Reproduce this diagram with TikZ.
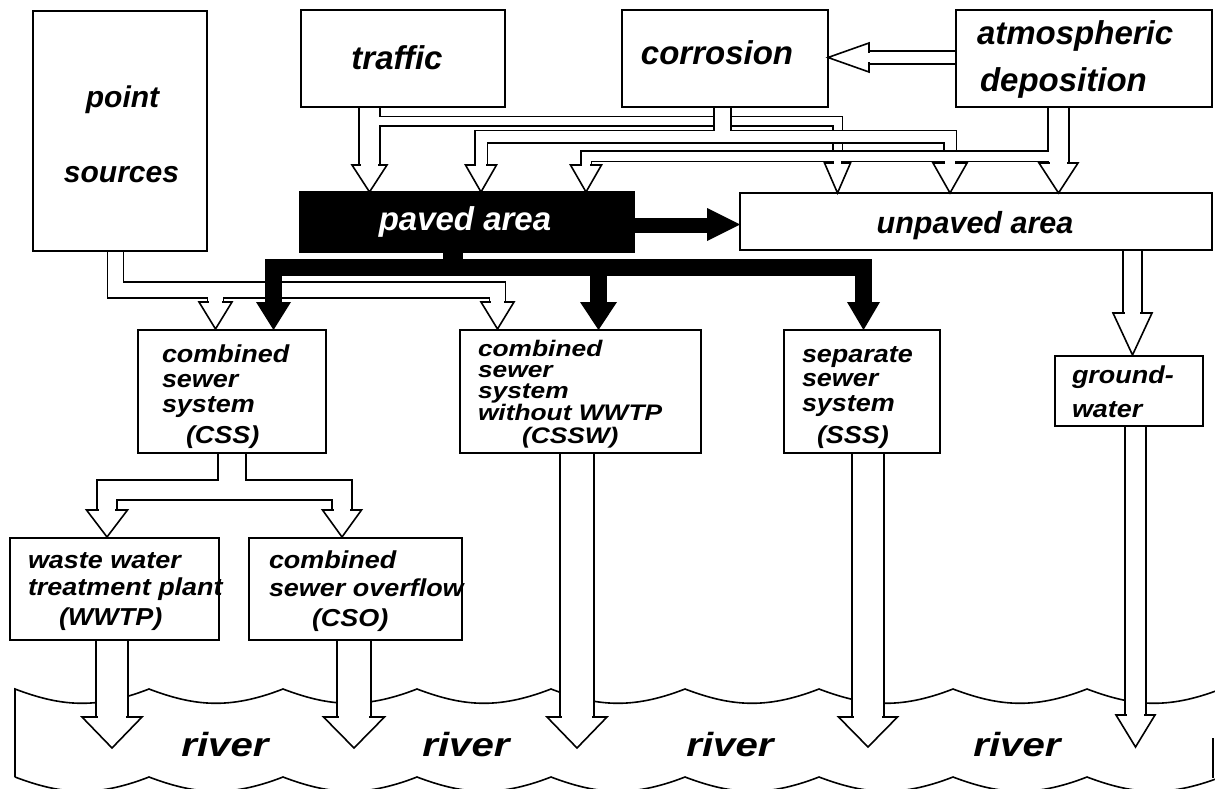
\documentclass[tikz,border=0pt]{standalone}
\usepackage{fontspec}
\setmainfont{Liberation Sans}
\newfontfamily\SewerFam[FakeStretch=1.1]{Liberation Sans}
\newfontfamily\SewerFamT[FakeStretch=1.17]{Liberation Sans}
\newfontfamily\RiverFam[FakeStretch=1.2]{Liberation Sans}
\pgfdeclarelayer{bg}
\pgfsetlayers{bg,main}
\newcommand\FTop{\fontsize{33}{36}\selectfont\bfseries\itshape}
\newcommand\FPt{\fontsize{30}{34}\selectfont\bfseries\itshape}
\newcommand\FUn{\fontsize{30.5}{34}\selectfont\bfseries\itshape}
\newcommand\FSw{\SewerFam\fontsize{24.5}{26}\selectfont\bfseries\itshape}
\newcommand\FSwT{\SewerFamT\fontsize{22.5}{24}\selectfont\bfseries\itshape}
\newcommand\FRv{\RiverFam\fontsize{33.5}{36}\selectfont\bfseries\itshape}
\tikzset{
  bx/.style={draw, line width=1.7pt, inner sep=0pt, outer sep=0pt, anchor=north west},
  lbl/.style={inner sep=0pt, outer sep=0pt},
  tl/.style={lbl, anchor=base west, font=\FSw},
  tlt/.style={lbl, anchor=base west, font=\FSwT},
  pk/.style={draw=black, line width=#1, line join=miter, line cap=butt},
  pw/.style={draw=white, line width=#1, line join=miter, line cap=butt},
  hd/.style={fill=white, draw=black, line width=1.6pt, line join=miter},
  rv/.style={draw=black, line width=1.6pt},
}
% hollow head pointing down: tip-x, base-y, tip-y, half head width, half shaft width
\newcommand\headD[5]{%
  \filldraw[hd] (#1-#4,#2) -- (#1+#4,#2) -- (#1,#3) -- cycle;
  \fill[white] (#1-#5+0.9,#2-1.8) rectangle (#1+#5-0.9,#2+1.4);
}
\begin{document}
\begin{tikzpicture}[x=1pt,y=-1pt]
\useasboundingbox (0,0) rectangle (1215,789);

% ---------- boxes ----------
\node[bx, minimum width=174pt, minimum height=240pt] (ps) at (33,11) {};
\node[bx, minimum width=204pt, minimum height=97pt] (traffic) at (301,10) {};
\node[bx, minimum width=206pt, minimum height=97pt] (corrosion) at (622,10) {};
\node[bx, minimum width=256pt, minimum height=97pt] (atmos) at (956,10) {};
\node[bx, fill=black, minimum width=334pt, minimum height=60pt] (paved) at (300,192) {};
\node[bx, minimum width=472pt, minimum height=57pt] (unpaved) at (740,193) {};
\node[bx, minimum width=188pt, minimum height=123pt] (css) at (138,330) {};
\node[bx, minimum width=241pt, minimum height=123pt] (cssw) at (460,330) {};
\node[bx, minimum width=156pt, minimum height=123pt] (sss) at (784,330) {};
\node[bx, minimum width=148pt, minimum height=70pt] (gw) at (1055,356) {};
\node[bx, minimum width=209pt, minimum height=102pt] (wwtp) at (10,538) {};
\node[bx, minimum width=213pt, minimum height=102pt] (cso) at (249,538) {};

% ---------- texts ----------
\node[lbl, anchor=base, font=\FPt] (pt1) at (122.5,108) {point};
\node[lbl, anchor=base, font=\FPt] (pt2) at (121.5,182) {sources};
\node[lbl, anchor=base, font=\FTop] (trt) at (397,70) {traffic};
\node[lbl, anchor=base, font=\FTop] (cot) at (717,65) {corrosion};
\node[lbl, anchor=base west, font=\FTop] (at1) at (977,45) {atmospheric};
\node[lbl, anchor=base west, font=\FTop] (at2) at (980,92) {deposition};
\node[lbl, anchor=base, font=\FTop, text=white] (pvt) at (465,230) {paved area};
\node[lbl, anchor=base, font=\FUn] (upt) at (975,233) {unpaved area};

\node[tl] (c1) at (162,362) {combined};
\node[tl] (c2) at (162,387) {sewer};
\node[tl] (c3) at (162,412) {system};
\node[tl] (c4) at (186,443) {(CSS)};

\node[tlt] (w1) at (478,356) {combined};
\node[tlt] (w2) at (478,377) {sewer};
\node[tlt] (w3) at (478,398) {system};
\node[tlt] (w4) at (478,420) {without WWTP};
\node[tlt] (w5) at (522,443) {(CSSW)};

\node[tl] (s1) at (802,362) {separate};
\node[tl] (s2) at (802,386) {sewer};
\node[tl] (s3) at (802,411) {system};
\node[tl] (s4) at (817,443) {(SSS)};

\node[tl] (g1) at (1072,383) {ground-};
\node[tl] (g2) at (1072,417) {water};

\node[tl] (t1) at (28,568) {waste water};
\node[tl] (t2) at (28,595) {treatment plant};
\node[tl] (t3) at (59,625) {(WWTP)};

\node[tl] (o1) at (269,568) {combined};
\node[tl] (o2) at (269,596) {sewer overflow};
\node[tl] (o3) at (312,626) {(CSO)};

\node[lbl, anchor=base, font=\FRv] (r1) at (225,756) {river};
\node[lbl, anchor=base, font=\FRv] (r2) at (466,756) {river};
\node[lbl, anchor=base, font=\FRv] (r3) at (730,756) {river};
\node[lbl, anchor=base, font=\FRv] (r4) at (1017,756) {river};

\begin{pgfonlayer}{bg}
% ---------- river ----------
\draw[rv] (15,777) -- (15,690) -- (15,689)
  .. controls (60,706) and (95,710) .. (149,689)
  .. controls (194,706) and (229,710) .. (283,689)
  .. controls (328,706) and (363,710) .. (417,689)
  .. controls (462,706) and (497,710) .. (551,689)
  .. controls (596,706) and (631,710) .. (685,689)
  .. controls (730,706) and (765,710) .. (819,689)
  .. controls (864,706) and (899,710) .. (953,689)
  .. controls (998,706) and (1033,710) .. (1087,689)
  .. controls (1132,706) and (1167,710) .. (1221,689);
\draw[rv] (15,777)
  .. controls (60,794) and (95,798) .. (149,777)
  .. controls (194,794) and (229,798) .. (283,777)
  .. controls (328,794) and (363,798) .. (417,777)
  .. controls (462,794) and (497,798) .. (551,777)
  .. controls (596,794) and (631,798) .. (685,777)
  .. controls (730,794) and (765,798) .. (819,777)
  .. controls (864,794) and (899,798) .. (953,777)
  .. controls (998,794) and (1033,798) .. (1087,777)
  .. controls (1132,794) and (1167,798) .. (1221,777);
\draw[rv] (1213,738) -- (1213,778);

% ---------- traffic ----------
\draw[pk=22.2pt] (369.5,0 |- traffic.south) -- (369.5,165);
\draw[pk=11.2pt] (369.5,121.5) -- (837.5,121.5) -- (837.5,163);
\draw[pw=19pt] (369.5,0 |- traffic.south) -- (369.5,165);
\draw[pw=8pt] (369.5,121.5) -- (837.5,121.5) -- (837.5,163);
% ---------- corrosion ----------
\draw[pk=18.2pt] (722.5,0 |- corrosion.south) -- (722.5,137);
\draw[pk=14.2pt] (481,165) -- (481,137) -- (950,137) -- (950,163);
\draw[pw=15pt] (722.5,0 |- corrosion.south) -- (722.5,137);
\draw[pw=11pt] (481,165) -- (481,137) -- (950,137) -- (950,163);
% ---------- atmospheric deposition ----------
\draw[pk=22.2pt] (1058.5,0 |- atmos.south) -- (1058.5,163);
\draw[pk=12.2pt] (1058.5,156) -- (586,156) -- (586,165);
\draw[pw=19pt] (1058.5,0 |- atmos.south) -- (1058.5,163);
\draw[pw=9pt] (1058.5,156) -- (586,156) -- (586,165);
% heads on paved / unpaved
\headD{369.5}{165}{192}{17.5}{9.5}
\headD{481}{165}{192}{15.5}{5.5}
\headD{586}{165}{192}{15.5}{4.5}
\headD{837.5}{163}{193}{13}{4}
\headD{950}{163}{193}{17}{5.5}
\headD{1058.5}{163}{193}{19.5}{9.5}
% atmospheric deposition -> corrosion
\draw[pk=14.2pt] (atmos.west |- 0,57.5) -- (869,57.5);
\draw[pw=11pt] (atmos.west |- 0,57.5) -- (869,57.5);
\filldraw[hd] (869,43) -- (869,72) -- (corrosion.east |- 0,57.5) -- cycle;
\fill[white] (867.4,52.9) rectangle (871,62.1);

% ---------- point sources ----------
\draw[pk=17.7pt] (115.5,0 |- ps.south) -- (115.5,290) -- (497.5,290) -- (497.5,302);
\draw[pk=17.7pt] (215.5,290) -- (215.5,302);
\draw[pw=14.5pt] (115.5,0 |- ps.south) -- (115.5,290) -- (497.5,290) -- (497.5,302);
\draw[pw=14.5pt] (215.5,290) -- (215.5,302);
\headD{215.5}{302}{329}{16.5}{7.25}
\headD{497.5}{302}{329}{16.5}{7.25}

% ---------- unpaved -> groundwater ----------
\draw[pk=20.2pt] (1132.5,0 |- unpaved.south) -- (1132.5,313);
\draw[pw=17pt] (1132.5,0 |- unpaved.south) -- (1132.5,313);
\headD{1132.5}{313}{355}{19.5}{8.5}

% ---------- CSS -> WWTP / CSO ----------
\draw[pk=29.2pt] (232,0 |- css.south) -- (232,490);
\draw[pk=21.2pt] (107,510) -- (107,490) -- (342,490) -- (342,510);
\draw[pw=26pt] (232,0 |- css.south) -- (232,490);
\draw[pw=18pt] (107,510) -- (107,490) -- (342,490) -- (342,510);
\headD{107}{510}{537}{20.5}{9}
\headD{342}{510}{537}{19.5}{9}

% ---------- into the river ----------
\draw[pk=33.2pt] (112,0 |- wwtp.south) -- (112,717);
\draw[pw=30pt] (112,0 |- wwtp.south) -- (112,717);
\headD{112}{717}{748}{30}{15}
\draw[pk=35.2pt] (354,0 |- cso.south) -- (354,717);
\draw[pw=32pt] (354,0 |- cso.south) -- (354,717);
\headD{354}{717}{748}{30.5}{16}
\draw[pk=35.2pt] (577,0 |- cssw.south) -- (577,717);
\draw[pw=32pt] (577,0 |- cssw.south) -- (577,717);
\headD{577}{717}{748}{30}{16}
\draw[pk=33.2pt] (868,0 |- sss.south) -- (868,717);
\draw[pw=30pt] (868,0 |- sss.south) -- (868,717);
\headD{868}{717}{747}{29.5}{15}
\draw[pk=22.2pt] (1135.5,0 |- gw.south) -- (1135.5,715);
\draw[pw=19pt] (1135.5,0 |- gw.south) -- (1135.5,715);
\headD{1135.5}{715}{747}{19.5}{9.5}
\end{pgfonlayer}

% ---------- black (paved area) arrows ----------
\fill[black] (443,0 |- paved.south) rectangle (463,261);
\draw[line width=17pt, black, line join=miter] (273.5,303) -- (273.5,267.5) -- (863.5,267.5) -- (863.5,303);
\draw[line width=17pt, black] (598.5,267.5) -- (598.5,303);
\fill[black] (256,302) -- (291,302) -- (273.5,0 |- css.north) -- cycle;
\fill[black] (580,302) -- (617,302) -- (598.5,0 |- cssw.north) -- cycle;
\fill[black] (847,302) -- (880,302) -- (863.5,0 |- sss.north) -- cycle;
\fill[black] (paved.east |- 0,218) rectangle (708,233);
\fill[black] (707,208) -- (707,241) -- (unpaved.west |- 0,224.5) -- cycle;
\end{tikzpicture}
\end{document}
